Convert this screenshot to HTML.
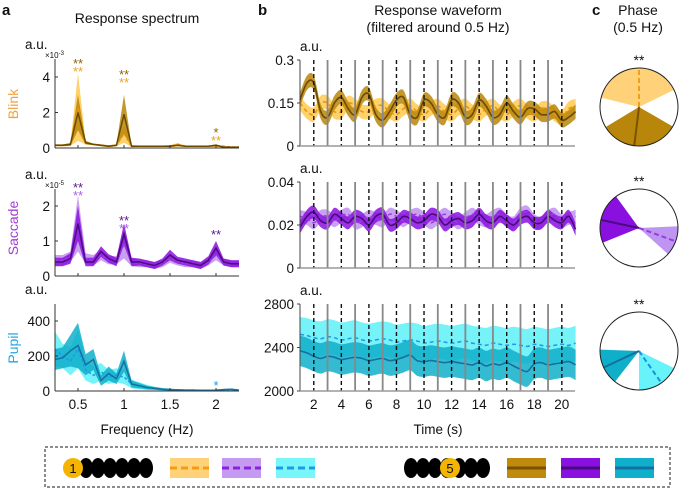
<!DOCTYPE html>
<html><head><meta charset="utf-8"><style>
body{margin:0;background:#fff}
svg{display:block;font-family:"Liberation Sans",sans-serif}
</style></head><body>
<svg id="fig" width="679" height="490" viewBox="0 0 679 490">
</svg>
<script>
// ---- spectrum data (panel a) ----
const freqs=[0.25,0.333,0.417,0.5,0.583,0.667,0.75,0.833,0.917,1.0,1.083,1.167,1.25,1.333,1.417,1.5,1.583,1.667,1.75,1.833,1.917,2.0,2.083,2.167,2.25];
const blinkSpec1=[0.15,0.15,0.2,2.3,0.3,0.2,0.15,0.1,0.15,0.8,0.1,0.1,0.1,0.1,0.1,0.1,0.2,0.1,0.1,0.1,0.1,0.12,0.1,0.05,0.05];
const blinkSpec1Err=[0.05,0.05,0.08,1.9,0.1,0.05,0.05,0.05,0.05,0.5,0.05,0.04,0.04,0.04,0.04,0.05,0.08,0.04,0.04,0.04,0.04,0.06,0.04,0.03,0.03];
const blinkSpec5=[0.15,0.15,0.2,2.0,0.3,0.2,0.15,0.1,0.15,1.9,0.1,0.1,0.1,0.1,0.1,0.1,0.15,0.1,0.1,0.1,0.1,0.15,0.05,0.05,0.05];
const blinkSpec5Err=[0.05,0.05,0.08,1.0,0.1,0.05,0.05,0.05,0.05,1.1,0.05,0.04,0.04,0.04,0.04,0.05,0.06,0.04,0.04,0.04,0.04,0.06,0.03,0.03,0.03];
const sacSpec1=[0.45,0.45,0.55,1.5,0.5,0.45,0.6,0.45,0.45,0.9,0.4,0.35,0.35,0.3,0.35,0.5,0.4,0.35,0.35,0.3,0.4,0.6,0.4,0.35,0.35];
const sacSpec1Err=[0.15,0.15,0.15,0.8,0.15,0.15,0.15,0.12,0.12,0.4,0.12,0.1,0.1,0.1,0.1,0.12,0.1,0.1,0.1,0.1,0.1,0.15,0.1,0.1,0.1];
const sacSpec5=[0.4,0.4,0.5,1.5,0.4,0.4,0.7,0.5,0.4,1.2,0.4,0.4,0.35,0.3,0.4,0.6,0.45,0.4,0.35,0.3,0.45,0.8,0.4,0.35,0.35];
const sacSpec5Err=[0.12,0.12,0.15,0.5,0.12,0.12,0.15,0.12,0.12,0.3,0.12,0.1,0.1,0.1,0.1,0.15,0.1,0.1,0.1,0.1,0.12,0.2,0.1,0.1,0.1];
const pupSpec1=[240,200,170,240,120,90,110,80,90,80,40,30,20,15,10,8,6,5,5,4,4,3,5,5,4];
const pupSpec1Err=[100,70,80,110,60,50,50,40,40,40,25,20,15,10,8,6,5,4,4,3,3,3,4,4,3];
const pupSpec5=[180,190,230,260,150,180,60,100,70,170,40,30,20,15,10,8,6,5,5,4,4,5,8,10,5];
const pupSpec5Err=[60,60,90,130,60,60,30,40,30,60,20,15,10,8,6,5,4,3,3,3,3,3,4,4,3];
// ---- waveform data (panel b) ----
const times=[1,1.5,2,2.5,3,3.5,4,4.5,5,5.5,6,6.5,7,7.5,8,8.5,9,9.5,10,10.5,11,11.5,12,12.5,13,13.5,14,14.5,15,15.5,16,16.5,17,17.5,18,18.5,19,19.5,20,20.5,21];
const blinkWave5=[0.16,0.22,0.22,0.12,0.1,0.15,0.17,0.13,0.11,0.17,0.18,0.11,0.09,0.12,0.16,0.17,0.11,0.1,0.16,0.15,0.11,0.1,0.16,0.15,0.1,0.11,0.16,0.14,0.1,0.11,0.15,0.12,0.1,0.13,0.13,0.11,0.11,0.12,0.09,0.1,0.12];
const blinkWave1=[0.15,0.12,0.11,0.15,0.15,0.12,0.12,0.15,0.14,0.12,0.12,0.14,0.14,0.12,0.11,0.13,0.14,0.12,0.11,0.13,0.14,0.12,0.11,0.13,0.14,0.12,0.11,0.13,0.14,0.12,0.11,0.13,0.14,0.12,0.11,0.13,0.13,0.11,0.1,0.13,0.14];
const sacWave5=[0.019,0.024,0.026,0.022,0.021,0.025,0.023,0.021,0.024,0.023,0.02,0.024,0.025,0.02,0.021,0.024,0.023,0.021,0.022,0.025,0.024,0.02,0.022,0.023,0.021,0.022,0.025,0.022,0.021,0.024,0.022,0.02,0.023,0.024,0.021,0.021,0.024,0.022,0.021,0.024,0.018];
const sacWave1=[0.024,0.023,0.021,0.024,0.024,0.022,0.024,0.025,0.021,0.022,0.024,0.023,0.022,0.025,0.024,0.022,0.024,0.025,0.023,0.021,0.023,0.025,0.023,0.021,0.023,0.025,0.023,0.022,0.024,0.025,0.022,0.021,0.025,0.026,0.022,0.021,0.024,0.025,0.022,0.023,0.024];
const pupWave1=[2520,2510,2490,2480,2500,2490,2470,2480,2490,2470,2460,2470,2480,2470,2450,2460,2470,2460,2440,2450,2460,2450,2440,2450,2460,2440,2430,2420,2440,2430,2420,2430,2420,2410,2430,2420,2410,2420,2430,2420,2440];
const pupWave5=[2370,2350,2320,2300,2320,2310,2290,2300,2310,2300,2280,2290,2300,2280,2290,2310,2330,2280,2270,2280,2270,2260,2270,2260,2250,2240,2260,2230,2250,2240,2260,2230,2200,2180,2250,2260,2240,2250,2260,2270,2240];
const blinkWaveErr=0.025, sacWaveErr=0.003, pupWave1Err=160, pupWave5Err=140;
// ---- phase data (degrees, svg angle convention) ----
const phaseBlink1=[194,334,270], phaseBlink5=[30,149,97];
const phaseSac1=[-2.5,42,20], phaseSac5=[158,234,192];
const phasePup1=[26,90,55], phasePup5=[128,182,155];
// tick labels
const specXTicks=[0.5,1,1.5,2];
const timeTicks=[2,4,6,8,10,12,14,16,18,20];

const NS="http://www.w3.org/2000/svg";
const svg=document.getElementById('fig');
function el(tag,attrs,parent,text){const e=document.createElementNS(NS,tag);for(const k in attrs)e.setAttribute(k,attrs[k]);if(text!==undefined)e.textContent=text;(parent||svg).appendChild(e);return e;}

const fx=f=>55+(f-0.25)*92;
const tx=t=>300+(t-1)*13.78;
const yBlA=v=>148-v*17.75, ySaA=v=>276-v*35, yPuA=v=>391-v*0.175;
const yBlB=v=>146-v/0.3*86, ySaB=v=>268-v/0.04*86, yPuB=v=>391-(v-2000)/800*87;

function linPath(xs,ys){return xs.map((x,i)=>(i?'L':'M')+x.toFixed(1)+','+ys[i].toFixed(1)).join('');}
function smoothPts(xs,ys){
  let d='';
  for(let i=0;i<xs.length;i++){
    if(i===0){d+='M'+xs[0].toFixed(1)+','+ys[0].toFixed(1);continue;}
    const x0=xs[Math.max(i-2,0)],y0=ys[Math.max(i-2,0)],x1=xs[i-1],y1=ys[i-1],x2=xs[i],y2=ys[i],x3=xs[Math.min(i+1,xs.length-1)],y3=ys[Math.min(i+1,xs.length-1)];
    d+='C'+(x1+(x2-x0)/6).toFixed(1)+','+(y1+(y2-y0)/6).toFixed(1)+' '+(x2-(x3-x1)/6).toFixed(1)+','+(y2-(y3-y1)/6).toFixed(1)+' '+x2.toFixed(1)+','+y2.toFixed(1);
  }
  return d;
}
function band(xs,up,lo,fill,opacity,name,smooth){
  let d;
  if(smooth){const a=smoothPts(xs,up);const rx=xs.slice().reverse(),rl=lo.slice().reverse();d=a+smoothPts(rx,rl).replace('M','L')+'Z';}
  else d=linPath(xs,up)+linPath(xs.slice().reverse(),lo.slice().reverse()).replace('M','L')+'Z';
  const p=el('path',{d:d,fill:fill,'fill-opacity':opacity});
  
  
}
function line(xs,ys,stroke,w,dash,name,smooth){
  const p=el('path',{d:smooth?smoothPts(xs,ys):linPath(xs,ys),fill:'none',stroke:stroke,'stroke-width':w});
  if(dash)p.setAttribute('stroke-dasharray',dash);
  
  
}
function txt(x,y,s,opts,name){
  const t=el('text',Object.assign({x:x,y:y,'font-size':13,fill:'#111'},opts||{}),svg,s);
  
  
  return t;
}

// titles
txt(2,15,'a',{'font-weight':'bold','font-size':15},'panel-a-label');
txt(137,23,'Response spectrum',{'text-anchor':'middle','font-size':14},'panel-a-title');
txt(258,15,'b',{'font-weight':'bold','font-size':15},'panel-b-label');
txt(438,15,'Response waveform',{'text-anchor':'middle','font-size':14},'panel-b-title');
txt(438,32,'(filtered around 0.5 Hz)',{'text-anchor':'middle','font-size':14},'panel-b-subtitle');
txt(592,15,'c',{'font-weight':'bold','font-size':15},'panel-c-label');
txt(638,15,'Phase',{'text-anchor':'middle','font-size':14},'panel-c-title');
txt(638,32,'(0.5 Hz)',{'text-anchor':'middle','font-size':14},'panel-c-subtitle');

// row labels
[['Blink','#F0A23C',104],['Saccade','#A43CD2',228],['Pupil','#22A6E0',348]].forEach(([s,c,y])=>{
  txt(18,y,s,{fill:c,'text-anchor':'middle','font-size':14,transform:'rotate(-90 18 '+y+')'},'row-label-'+s.toLowerCase());
});

// ---- panel a ----
const specRows=[
 {name:'blink',y:yBlA,top:59,bot:148,ticks:[0,2,4],exp:'×10',sup:'-3',s1:blinkSpec1,e1:blinkSpec1Err,s5:blinkSpec5,e5:blinkSpec5Err,c1f:'#FFC94D',c1l:'#E8920E',c5f:'#B8860B',c5l:'#6B4A00'},
 {name:'saccade',y:ySaA,top:189,bot:276,ticks:[0,1,2],exp:'×10',sup:'-5',s1:sacSpec1,e1:sacSpec1Err,s5:sacSpec5,e5:sacSpec5Err,c1f:'#C090F0',c1l:'#9A3AE0',c5f:'#8A10E0',c5l:'#4A0A80'},
 {name:'pupil',y:yPuA,top:304,bot:391,ticks:[0,200,400],s1:pupSpec1,e1:pupSpec1Err,s5:pupSpec5,e5:pupSpec5Err,c1f:'#5EF0F8',c1l:'#1C9AE8',c5f:'#0FAFCA',c5l:'#1470A0'}
];
const fxs=freqs.map(fx);
specRows.forEach(r=>{
  const g=r.name;
  band(fxs,r.s1.map((v,i)=>r.y(v+r.e1[i])),r.s1.map((v,i)=>r.y(Math.max(0,v-r.e1[i]))),r.c1f,0.85,g+'-spectrum-band-1',false);
  band(fxs,r.s5.map((v,i)=>r.y(v+r.e5[i])),r.s5.map((v,i)=>r.y(Math.max(0,v-r.e5[i]))),r.c5f,0.85,g+'-spectrum-band-5',false);
  line(fxs,r.s1.map(r.y),r.c1l,1.5,'3,2',g+'-spectrum-line-1',false);
  line(fxs,r.s5.map(r.y),r.c5l,1.5,null,g+'-spectrum-line-5',false);
  el('line',{x1:55,x2:55,y1:r.top,y2:r.bot,stroke:'#333','stroke-width':1});
  el('line',{x1:55,x2:239,y1:r.bot,y2:r.bot,stroke:'#333','stroke-width':1});
  r.ticks.forEach(v=>{el('line',{x1:55,x2:58,y1:r.y(v),y2:r.y(v),stroke:'#333'});txt(50,r.y(v)+5,String(v),{'text-anchor':'end','font-size':13.5},g+'-spectrum-ytick');});
  specXTicks.forEach(f=>el('line',{x1:fx(f),x2:fx(f),y1:r.bot,y2:r.bot-3,stroke:'#333'}));
  txt(25,r.top-10,'a.u.',{'font-size':13.5},g+'-spectrum-unit');
  if(r.exp){const t=txt(45,r.top-1,r.exp,{'font-size':8},g+'-spectrum-exponent');el('tspan',{dy:-3,'font-size':6},t,r.sup);}
});
specXTicks.forEach(f=>txt(fx(f),409,String(f),{'text-anchor':'middle','font-size':13.5},'spectrum-xtick'));
txt(147,434,'Frequency (Hz)',{'text-anchor':'middle','font-size':13.5},'spectrum-x-title');
[[0.5,63,'**','#8B6508'],[0.5,71,'**','#F0A020'],[1,74,'**','#8B6508'],[1,82,'**','#F0A020'],[2,132,'*','#8B6508'],[2,140,'**','#F0A020'],
 [0.5,187,'**','#5A1490'],[0.5,195,'**','#A860F0'],[1,220,'**','#5A1490'],[1,228,'**','#A860F0'],[2,234,'**','#5A1490'],[2,385,'*','#1C9AE8']].forEach(([f,y,s,c])=>{
  txt(fx(f),y+5,s,{'text-anchor':'middle','font-size':13,fill:c},'significance-star');
});

// ---- panel b ----
const txs=times.map(tx);
const waveRows=[
 {name:'blink',y:yBlB,top:60,bot:146,ticks:[[0,'0'],[0.15,'0.15'],[0.3,'0.3']],s1:blinkWave1,e1:blinkWaveErr,s5:blinkWave5,e5:blinkWaveErr,c1f:'#FFC94D',c1l:'#E8920E',c5f:'#B8860B',c5l:'#6B4A00'},
 {name:'saccade',y:ySaB,top:182,bot:268,ticks:[[0,'0'],[0.02,'0.02'],[0.04,'0.04']],s1:sacWave1,e1:sacWaveErr,s5:sacWave5,e5:sacWaveErr,c1f:'#C090F0',c1l:'#9A3AE0',c5f:'#8A10E0',c5l:'#4A0A80'},
 {name:'pupil',y:yPuB,top:304,bot:391,ticks:[[2000,'2000'],[2400,'2400'],[2800,'2800']],s1:pupWave1,e1:pupWave1Err,s5:pupWave5,e5:pupWave5Err,c1f:'#5EF0F8',c1l:'#1C9AE8',c5f:'#0FAFCA',c5l:'#1470A0'}
];
waveRows.forEach(r=>{
  const g=r.name;
  band(txs,r.s1.map(v=>r.y(v+r.e1)),r.s1.map(v=>r.y(v-r.e1)),r.c1f,0.85,g+'-waveform-band-1',true);
  band(txs,r.s5.map(v=>r.y(v+r.e5)),r.s5.map(v=>r.y(v-r.e5)),r.c5f,0.85,g+'-waveform-band-5',true);
  line(txs,r.s1.map(r.y),r.c1l,1.5,'4,3',g+'-waveform-line-1',true);
  line(txs,r.s5.map(r.y),r.c5l,1.6,null,g+'-waveform-line-5',true);
  for(let t=3;t<=19;t+=2){const l=el('line',{x1:tx(t),x2:tx(t),y1:r.top,y2:r.bot,stroke:'#888','stroke-width':1.8});}
  timeTicks.forEach(t=>{const l=el('line',{x1:tx(t),x2:tx(t),y1:r.top,y2:r.bot,stroke:'#111','stroke-width':1.4,'stroke-dasharray':'4,3'});});
  el('line',{x1:300,x2:300,y1:r.top,y2:r.bot,stroke:'#444','stroke-width':1});
  el('line',{x1:300,x2:575,y1:r.bot,y2:r.bot,stroke:'#999','stroke-width':1.5});
  r.ticks.forEach(([v,s])=>{el('line',{x1:297,x2:300,y1:r.y(v),y2:r.y(v),stroke:'#444'});txt(294,r.y(v)+5,s,{'text-anchor':'end','font-size':13.5},g+'-waveform-ytick');});
  txt(300,r.top-9,'a.u.',{'font-size':13.5},g+'-waveform-unit');
});
timeTicks.forEach(t=>txt(tx(t),409,String(t),{'text-anchor':'middle','font-size':13.5},'time-xtick'));
txt(438,434,'Time (s)',{'text-anchor':'middle','font-size':13.5},'time-x-title');

// ---- panel c ----
function wedge(cx,cy,r,a0,a1,fill,name){
  const p=a=>[cx+r*Math.cos(a*Math.PI/180),cy+r*Math.sin(a*Math.PI/180)];
  const s=p(a0),e=p(a1);const large=((a1-a0+360)%360)>180?1:0;
  const w=el('path',{d:`M${cx},${cy}L${s[0]},${s[1]}A${r},${r} 0 ${large} 1 ${e[0]},${e[1]}Z`,fill:fill});
  
  
}
const phaseRows=[
 {name:'blink',cy:107,p1:phaseBlink1,p5:phaseBlink5,c1f:'#FFD27A',c1l:'#F0A020',c5f:'#B8860B',c5l:'#7A5200'},
 {name:'saccade',cy:228,p1:phaseSac1,p5:phaseSac5,c1f:'#BE96F2',c1l:'#9A3AE0',c5f:'#8A10E0',c5l:'#4A0A80'},
 {name:'pupil',cy:351,p1:phasePup1,p5:phasePup5,c1f:'#66F3FA',c1l:'#1C8EE0',c5f:'#0FAFCA',c5l:'#1470A0'}
];
phaseRows.forEach(r=>{
  const cx=639,cy=r.cy,R=39;
  el('circle',{cx:cx,cy:cy,r:R,fill:'#fff'});
  wedge(cx,cy,R,r.p1[0],r.p1[1],r.c1f,r.name+'-phase-wedge-1');
  wedge(cx,cy,R,r.p5[0],r.p5[1],r.c5f,r.name+'-phase-wedge-5');
  const a1=r.p1[2]*Math.PI/180,a5=r.p5[2]*Math.PI/180;
  const l1=el('line',{x1:cx,y1:cy,x2:cx+R*Math.cos(a1),y2:cy+R*Math.sin(a1),stroke:r.c1l,'stroke-width':2,'stroke-dasharray':'5,3'});
  
  const l5=el('line',{x1:cx,y1:cy,x2:cx+R*Math.cos(a5),y2:cy+R*Math.sin(a5),stroke:r.c5l,'stroke-width':2});
  
  const c=el('circle',{cx:cx,cy:cy,r:R,fill:'none',stroke:'#222','stroke-width':1});
  
  txt(cx,cy-42,'**',{'text-anchor':'middle','font-size':14},r.name+'-phase-significance');
});

// ---- legend ----
const lg=el('rect',{x:45,y:447,width:625,height:40,fill:'none',stroke:'#666','stroke-width':1.5,'stroke-dasharray':'3,2'});

for(let k=0;k<6;k++)el('ellipse',{cx:86+k*12,cy:468,rx:7,ry:10,fill:'#000'});
el('circle',{cx:73,cy:468,r:10,fill:'#F5B400'});
txt(73,473,'1',{'text-anchor':'middle','font-size':13},'legend-position-1');
for(let k=0;k<7;k++)el('ellipse',{cx:411+k*12,cy:468,rx:7,ry:10,fill:'#000'});
el('circle',{cx:450,cy:468,r:10,fill:'#F5B400'});
txt(450,473,'5',{'text-anchor':'middle','font-size':13},'legend-position-5');
[[170,'#FFD27A','#F39C12',true,'blink-1'],[222,'#C49BF0','#8B20E0',true,'saccade-1'],[276,'#78F6FA','#1C9AE8',true,'pupil-1'],
 [507,'#BF8A0E','#7A5200',false,'blink-5'],[561,'#8A10E0','#4A0A80',false,'saccade-5'],[615,'#10B0CC','#1470A0',false,'pupil-5']].forEach(([x,f,l,d,n])=>{
  const r=el('rect',{x:x,y:458,width:39,height:20,fill:f});
  
  const ln=el('line',{x1:x,x2:x+39,y1:468,y2:468,stroke:l,'stroke-width':3});
  if(d)ln.setAttribute('stroke-dasharray','7,4');
  
});
</script>
</body></html>
